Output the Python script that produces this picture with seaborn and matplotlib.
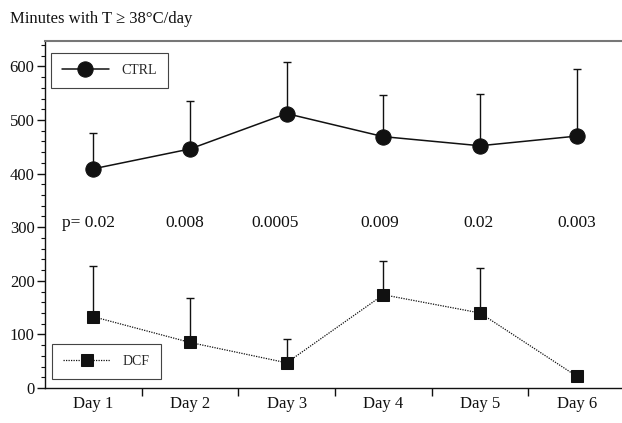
import numpy as np
import pandas as pd
import seaborn as sns
import matplotlib.pyplot as plt
from matplotlib.ticker import MultipleLocator

# données
days = ["Day 1", "Day 2", "Day 3", "Day 4", "Day 5", "Day 6"]
ctrl_mean = [409, 446, 512, 469, 452, 470]
ctrl_top = [476, 535, 608, 546, 548, 595]
dcf_mean = [133, 85, 47, 174, 140, 22]
dcf_top = [227, 167, 91, 237, 223, 25]
p_labels = ["p= 0.02", "0.008", "0.0005", "0.009", "0.02", "0.003"]
p_shift = [-0.05, -0.05, -0.12, -0.04, -0.02, 0.0]
p_level = 307

sns.set_theme(style="white")
plt.rcParams['font.family'] = ['Liberation Serif', 'DejaVu Serif']
plt.rcParams['mathtext.fontset'] = 'stix'

ink = "#111111"

df_ctrl = pd.DataFrame({"day": days, "val": ctrl_mean})
df_dcf = pd.DataFrame({"day": days, "val": dcf_mean})

fig = plt.figure(figsize=(6.22, 4.23), dpi=100)
ax = fig.add_axes([45 / 622, 1 - 388 / 423, 580 / 622, 347.3 / 423])

# barres d'erreur (côté haut seulement)
ax.errorbar(days, ctrl_mean, yerr=[np.zeros(6), np.array(ctrl_top) - np.array(ctrl_mean)],
            fmt='none', ecolor=ink, elinewidth=1, capsize=3, capthick=1, zorder=1)
ax.errorbar(days, dcf_mean, yerr=[np.zeros(6), np.array(dcf_top) - np.array(dcf_mean)],
            fmt='none', ecolor=ink, elinewidth=1, capsize=3, capthick=1, zorder=1)

sns.lineplot(data=df_ctrl, x="day", y="val", ax=ax, color=ink, marker='o', markersize=11,
             markeredgecolor=ink, linewidth=1.1, label="CTRL", zorder=3, sort=False)
sns.lineplot(data=df_dcf, x="day", y="val", ax=ax, color=ink, marker='s', markersize=8.5,
             markeredgecolor=ink, linewidth=0.9, linestyle=(0, (1, 1)), label="DCF",
             zorder=3, sort=False)

for i, (lab, dx) in enumerate(zip(p_labels, p_shift)):
    ax.text(i + dx, p_level, lab, ha='center', va='center', fontsize=12.5, color=ink)

ax.set_xlim(-0.5, 5.5)
ax.set_ylim(0, 648)
ax.set_xlabel("")
ax.set_ylabel("")

# ticks
ax.set_xticks([0.5, 1.5, 2.5, 3.5, 4.5])
ax.set_xticklabels([""] * 5)
ax.set_xticks(range(6), minor=True)
ax.set_xticklabels(days, minor=True, fontsize=12, color=ink)
ax.tick_params(axis='x', which='major', direction='out', length=6, width=1, color=ink, bottom=True)
ax.tick_params(axis='x', which='minor', length=0, pad=6)

ax.yaxis.set_major_locator(MultipleLocator(100))
ax.yaxis.set_minor_locator(MultipleLocator(20))
ax.tick_params(axis='y', which='major', direction='out', length=6, width=1, color=ink,
               left=True, labelsize=12, labelcolor=ink, pad=1.5)
ax.tick_params(axis='y', which='minor', direction='out', length=3, width=0.8, color=ink, left=True)

for s in ["left", "bottom"]:
    ax.spines[s].set_color(ink)
    ax.spines[s].set_linewidth(1)
ax.spines["top"].set_color("#777777")
ax.spines["top"].set_linewidth(1.5)
ax.spines["right"].set_visible(False)

# deux légendes séparées
handles, labels = ax.get_legend_handles_labels()
leg_opts = dict(fontsize=10, frameon=True, fancybox=False, framealpha=1, edgecolor="#444444",
                borderpad=0.8, handlelength=3.4, handletextpad=0.9, borderaxespad=0)
leg1 = ax.legend([handles[0]], [labels[0]], loc='upper left', bbox_to_anchor=(0.0098, 0.9646), **leg_opts)
leg1.get_frame().set_linewidth(0.8)
ax.add_artist(leg1)
leg2 = ax.legend([handles[1]], [labels[1]], loc='lower left', bbox_to_anchor=(0.012, 0.026), **leg_opts)
leg2.get_frame().set_linewidth(0.8)

fig.text(10 / 622, 1 - 19 / 423, "Minutes with T \u2265 38\u00b0C/day", ha='left', va='center',
         fontsize=12, color=ink)

fig.savefig("out.png", dpi=100)
